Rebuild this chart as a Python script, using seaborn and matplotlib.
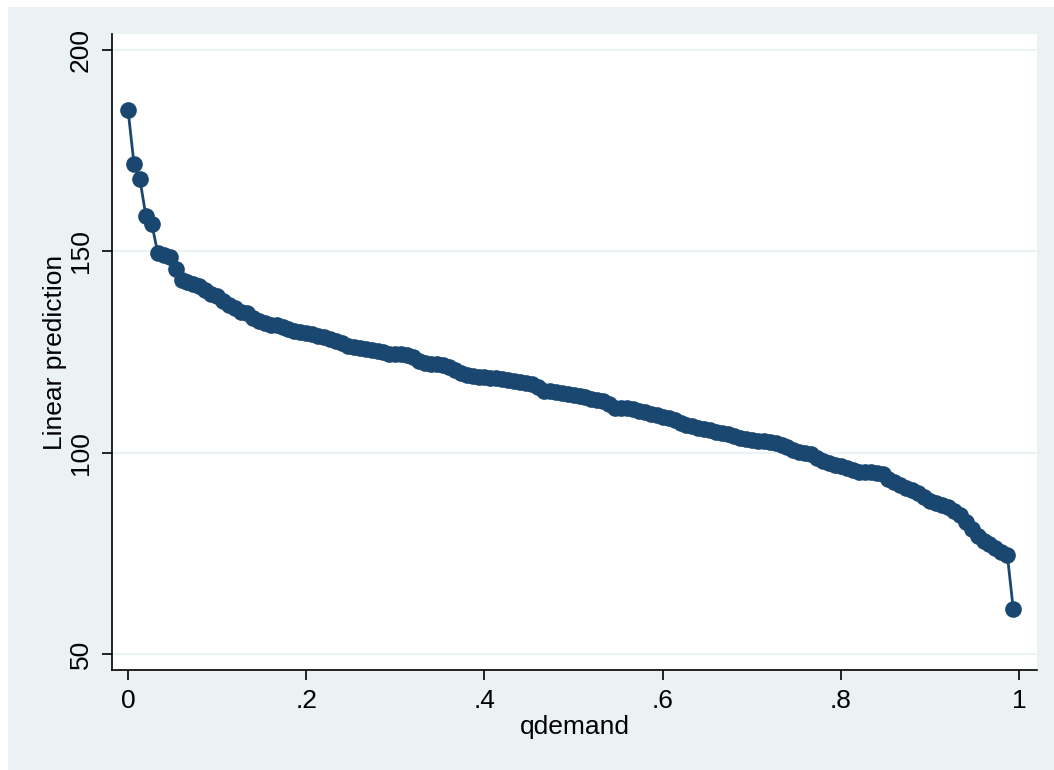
import numpy as np
import pandas as pd
import seaborn as sns
import matplotlib.pyplot as plt
from matplotlib.patches import Rectangle

# quantile positions (i/150) and the linear prediction at each
qdemand = [i / 150 for i in range(150)]
prediction = [
    185.1, 171.8, 167.9, 158.8, 156.8, 149.6, 149.0, 148.5, 145.6, 143.0,
    142.3, 141.8, 141.4, 140.3, 139.4, 138.9, 137.7, 136.8, 136.0, 135.0,
    134.6, 133.4, 132.6, 132.1, 131.8, 131.6, 131.2, 130.6, 130.3, 130.0,
    129.8, 129.4, 129.0, 128.7, 128.3, 127.8, 127.2, 126.6, 126.3, 126.0,
    125.8, 125.5, 125.2, 124.9, 124.6, 124.5, 124.4, 124.2, 123.8, 122.8,
    122.3, 122.1, 122.0, 121.8, 121.3, 120.6, 119.9, 119.4, 119.0, 118.8,
    118.7, 118.6, 118.5, 118.3, 118.0, 117.7, 117.5, 117.3, 117.1, 116.2,
    115.4, 115.2, 115.0, 114.8, 114.5, 114.3, 114.1, 113.8, 113.4, 113.1,
    112.8, 112.0, 111.2, 111.1, 111.0, 110.8, 110.4, 110.0, 109.7, 109.3,
    108.9, 108.5, 108.0, 107.4, 106.9, 106.5, 106.1, 105.8, 105.5, 105.2,
    104.9, 104.7, 104.2, 103.6, 103.4, 103.2, 103.0, 102.8, 102.6, 102.4,
    102.0, 101.3, 100.6, 100.1, 99.9, 99.6, 98.6, 97.8, 97.4, 97.0,
    96.6, 96.1, 95.6, 95.3, 95.2, 95.1, 95.0, 94.7, 93.5, 92.7,
    92.0, 91.3, 90.6, 89.9, 88.9, 88.0, 87.5, 87.1, 86.5, 85.5,
    84.4, 82.8, 81.0, 79.3, 78.0, 77.4, 76.4, 75.4, 74.6, 61.2,
]
xticks = [0, 0.2, 0.4, 0.6, 0.8, 1]
xtick_labels = ["0", ".2", ".4", ".6", ".8", "1"]
yticks = [50, 100, 150, 200]

df = pd.DataFrame({"qdemand": qdemand, "pred": prediction})

sns.set_theme(style="white")
plt.rcParams["font.family"] = ["Liberation Sans", "DejaVu Sans"]

navy = "#1a476f"
bg = "#eaf2f3"

fig = plt.figure(figsize=(10.54, 7.70), dpi=100)
fig.patch.set_facecolor("white")
# light Stata-style graph region, with a thin white margin top and left
fig.patches.append(Rectangle((8 / 1054, 0), 1 - 8 / 1054, 1 - 7 / 770,
                             transform=fig.transFigure, facecolor=bg,
                             edgecolor="none", zorder=-10))
ax = fig.add_axes([112 / 1054, 1 - 670 / 770, (1037 - 112) / 1054, (670 - 34) / 770])
ax.set_zorder(1)
ax.set_facecolor("white")

for y in yticks:
    ax.axhline(y, color=bg, linewidth=1.5, zorder=0)

sns.lineplot(data=df, x="qdemand", y="pred", ax=ax, color=navy,
             linewidth=2.0, marker="o", markersize=12,
             markeredgewidth=0, markerfacecolor=navy)

ax.set_xlim(-0.018, 1.020)
ax.set_ylim(46.0, 204.0)
ax.set_xticks(xticks)
ax.set_xticklabels(xtick_labels)
ax.set_yticks(yticks)
ax.set_yticklabels([str(v) for v in yticks], rotation=90, va="center")

for side in ["top", "right"]:
    ax.spines[side].set_visible(False)
for side in ["left", "bottom"]:
    ax.spines[side].set_color("black")
    ax.spines[side].set_linewidth(1.2)

ax.tick_params(axis="both", direction="out", length=7, width=1.2,
               color="black", labelsize=19, labelcolor="black", pad=7)
ax.tick_params(axis="both", which="both", bottom=True, left=True)

ax.set_xlabel("qdemand", fontsize=19, color="black", labelpad=1)
ax.set_ylabel("Linear prediction", fontsize=19, color="black", labelpad=1)

fig.savefig("out.png", dpi=100, facecolor=fig.get_facecolor())
